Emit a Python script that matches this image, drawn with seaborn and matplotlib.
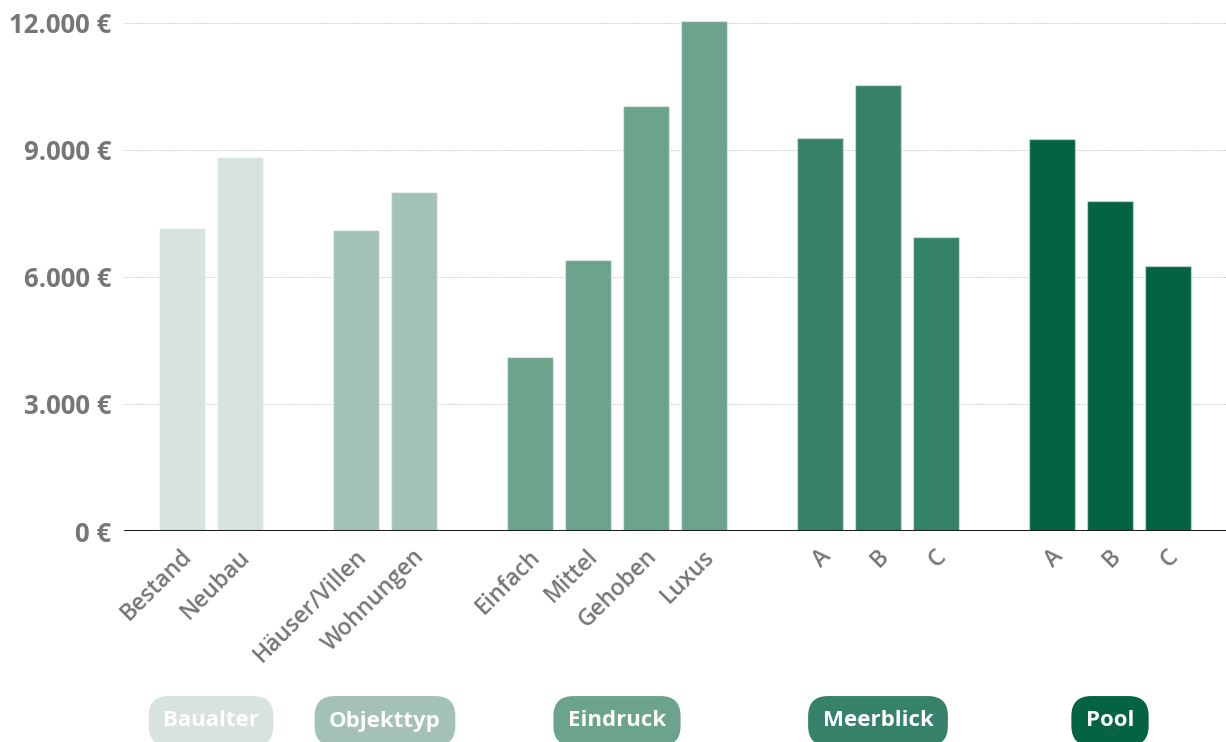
import matplotlib
matplotlib.use("Agg")
import matplotlib.pyplot as plt
import matplotlib.transforms as mtransforms
import seaborn as sns
import pandas as pd

# Average price per m² by property feature
groups = ["Baualter", "Objekttyp", "Eindruck", "Meerblick", "Pool"]
group_labels = [
    ["Bestand", "Neubau"],
    ["Häuser/Villen", "Wohnungen"],
    ["Einfach", "Mittel", "Gehoben", "Luxus"],
    ["A", "B", "C"],
    ["A", "B", "C"],
]
group_values = [
    [7150, 8830],
    [7100, 8000],
    [4100, 6400, 10040, 12050],
    [9280, 10540, 6950],
    [9260, 7800, 6260],
]
group_colors = ["#d8e2de", "#a3c1b4", "#6ba38c", "#35816a", "#036342"]
y_ticks = [0, 3000, 6000, 9000, 12000]

# Long table, one row per bar; keys are unique per group
rows = []
order = []
for gi, (g, labs, vals) in enumerate(zip(groups, group_labels, group_values)):
    if gi > 0:
        order.append(f"_gap{gi}")
    for lab, v in zip(labs, vals):
        key = f"{g}|{lab}"
        order.append(key)
        rows.append({"key": key, "label": lab, "group": g, "value": v})
df = pd.DataFrame(rows)

sns.set_theme(style="white")
plt.rcParams["font.family"] = ["Open Sans", "DejaVu Sans"]

W, H = 1226, 742
fig = plt.figure(figsize=(W / 100, H / 100), dpi=100)
ax = fig.add_axes([124 / W, 1 - 531 / H, 1 - 124 / W, (531 - 14.5) / H])

sns.barplot(
    data=df, x="key", y="value", hue="group", order=order,
    palette=dict(zip(groups, group_colors)), dodge=False, width=0.8,
    saturation=1, edgecolor=(1, 1, 1, 0.45), linewidth=1.0, legend=False,
    ax=ax, zorder=3,
)

ax.set_xlim(-1, len(order))
ax.set_ylim(0, 12200)
ax.set_xlabel("")
ax.set_ylabel("")
for s in ax.spines.values():
    s.set_visible(False)

# Horizontal guides and baseline
ax.set_yticks(y_ticks)
ax.set_yticklabels([f"{v:,.0f} €".replace(",", ".") for v in y_ticks])
ax.yaxis.grid(True, color="#d4d4d4", linestyle=(0, (2, 1)), linewidth=0.7, zorder=0)
ax.xaxis.grid(False)
ax.axhline(0, color="#1f1f1f", linewidth=2.2, zorder=5)
ax.tick_params(axis="y", length=0, pad=9, labelsize=18.5, labelcolor="#767676")
for t in ax.get_yticklabels():
    t.set_fontweight("bold")

# Category labels only under real bars
tick_pos = [i for i, k in enumerate(order) if not k.startswith("_gap")]
tick_lab = [order[i].split("|", 1)[1] for i in tick_pos]
ax.set_xticks(tick_pos)
ax.set_xticklabels(tick_lab, rotation=45, ha="right", va="center",
                   rotation_mode="anchor")
ax.tick_params(axis="x", length=0, pad=16, labelsize=16.5, labelcolor="#767676")
shift = mtransforms.ScaledTranslation(7 / 100, 0, fig.dpi_scale_trans)
for t in ax.get_xticklabels():
    t.set_fontweight("semibold")
    t.set_transform(t.get_transform() + shift)

# Group badges below the category labels
trans = mtransforms.blended_transform_factory(ax.transData, fig.transFigure)
for g, col in zip(groups, group_colors):
    idx = [i for i, k in enumerate(order) if k.startswith(g + "|")]
    cx = (idx[0] + idx[-1]) / 2
    ax.text(cx, 1 - 721 / H, g, transform=trans, ha="center", va="center",
            fontsize=16, fontweight="bold", color="white", clip_on=False,
            bbox=dict(boxstyle="round,pad=0.65,rounding_size=0.9",
                      facecolor=col, edgecolor="none"))

fig.savefig("out.png", dpi=100)
